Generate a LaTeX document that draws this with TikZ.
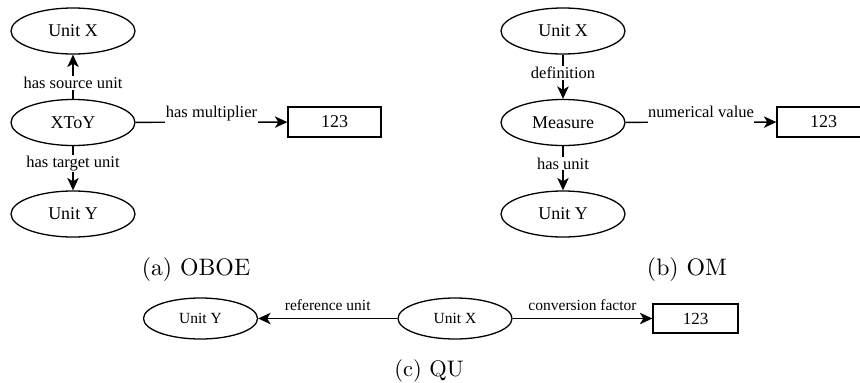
\documentclass[tikz,border=0pt]{standalone}
\usepackage{fontspec}
\newfontfamily\dfont{Liberation Serif}
\newfontfamily\capfont{lmroman10-regular}[Extension=.otf]
\usetikzlibrary{arrows.meta,shapes.geometric}

\begin{document}
\begin{tikzpicture}[x=1pt,y=-1pt,
  ell/.style={ellipse, draw, line width=1.3pt, minimum width=124pt, minimum height=46pt,
    inner sep=0pt, font=\dfont\fontsize{18}{20}\selectfont},
  ellc/.style={ell, minimum width=114pt, minimum height=41pt, font=\dfont\fontsize{15.5}{17}\selectfont},
  val/.style={draw, line width=1.3pt, minimum width=93pt, minimum height=30pt, inner sep=0pt,
    font=\dfont\fontsize{18}{20}\selectfont},
  valc/.style={val, minimum width=85pt, minimum height=29pt, font=\dfont\fontsize{17}{19}\selectfont},
  arr/.style={-{Stealth[length=12.5pt,width=11.5pt,inset=3.5pt]}, line width=1.3pt},
  hlbl/.style={anchor=base, fill=white, inner xsep=0.5pt, inner ysep=0pt, text depth=6pt,
    yshift=4.5pt, font=\dfont\fontsize{16.5}{18}\selectfont},
  hlblc/.style={hlbl, yshift=3.5pt, font=\dfont\fontsize{15.5}{17}\selectfont},
  vlbl/.style={fill=white, inner sep=1pt, font=\dfont\fontsize{16.5}{18}\selectfont},
  capt/.style={anchor=base, font=\capfont\fontsize{23.8}{28}\selectfont},
]
\useasboundingbox (0,0) rectangle (860,383);

% (a) OBOE
\node[ell] (ax) at (73,31) {Unit X};
\node[ell] (xtoy) at (73,122.5) {XToY};
\node[ell] (ay) at (73,214) {Unit Y};
\node[val] (abox) at (334.5,122) {123};
\draw[arr] (xtoy) -- node[vlbl,pos=0.36] {has source unit} (ax);
\draw[arr] (xtoy) -- node[vlbl,pos=0.4] {has target unit} (ay);
\draw[arr] (xtoy) -- node[hlbl] {has multiplier} (abox);
\node[capt] (capa) at (196,275) {(a) OBOE};

% (b) OM
\node[ell] (bx) at (563,31) {Unit X};
\node[ell] (meas) at (563,122.5) {Measure};
\node[ell] (by) at (563,214) {Unit Y};
\node[val] (bbox) at (823.5,122) {123};
\draw[arr] (bx) -- node[vlbl,pos=0.42] {definition} (meas);
\draw[arr] (meas) -- node[vlbl,pos=0.39] {has unit} (by);
\draw[arr] (meas) -- node[hlbl] {numerical value} (bbox);
\node[capt] (capb) at (687,275) {(b) OM};

% (c) QU
\node[ellc] (cy) at (200.5,318.5) {Unit Y};
\node[ellc] (cx) at (455,318.5) {Unit X};
\node[valc] (cbox) at (695.5,318.5) {123};
\draw[arr] (cx) -- node[hlblc] {reference unit} (cy);
\draw[arr] (cx) -- node[hlblc] {conversion factor} (cbox);
\node[capt, font=\capfont\fontsize{22.5}{27}\selectfont] (capc) at (429,376) {(c) QU};
\end{tikzpicture}
\end{document}
